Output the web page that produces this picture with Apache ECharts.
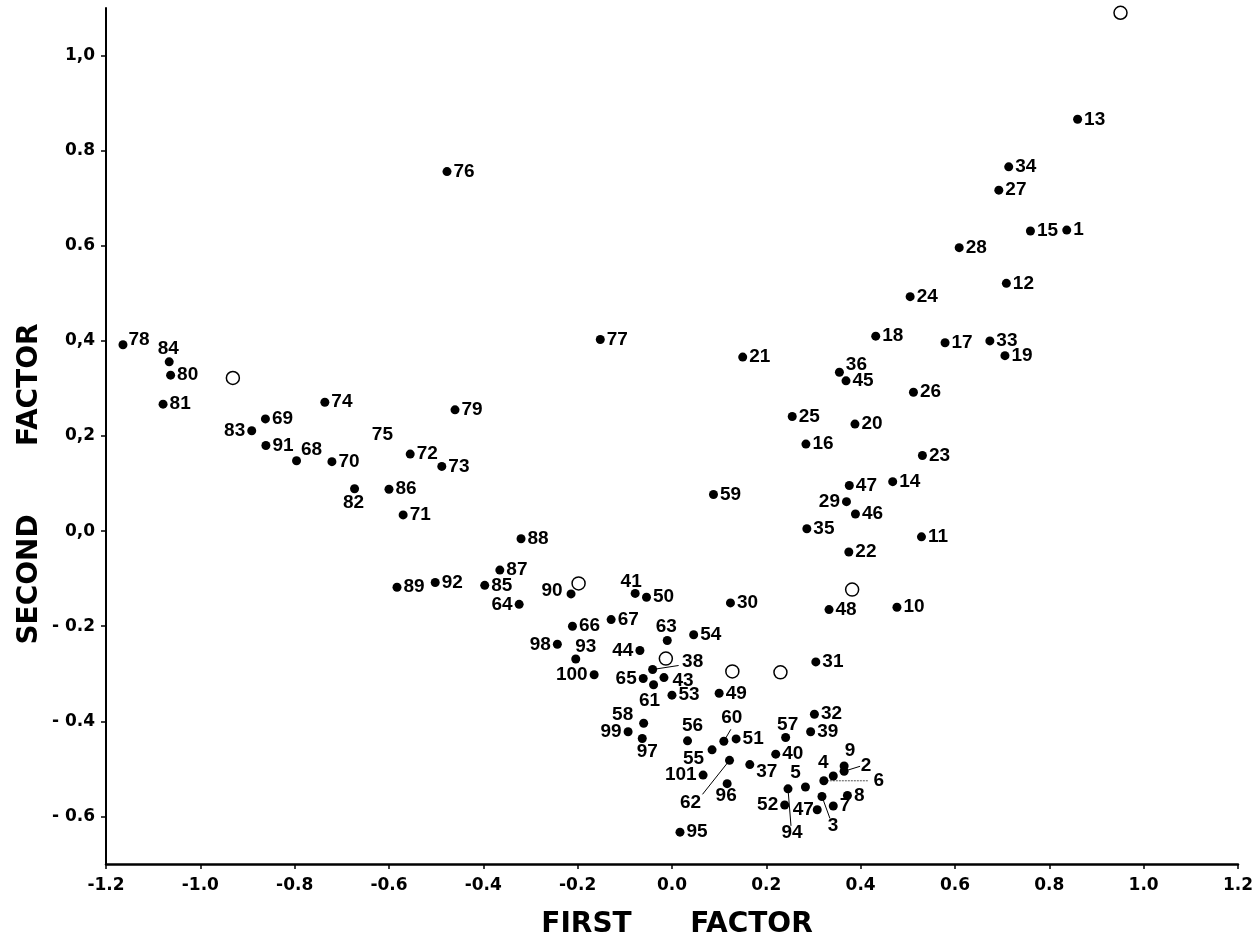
<!DOCTYPE html>
<html>
<head>
<meta charset="utf-8">
<script src="https://cdn.jsdelivr.net/npm/echarts@6/dist/echarts.min.js"></script>
<style>html,body{margin:0;padding:0;background:#fff;}#c{width:1256px;height:940px;}</style>
</head>
<body>
<div id="c"></div>
<script>
// ---- data ----
const pointIds = ['1','2','3','4','5','6','7','8','9','10','11','12','13','14','15','16','17','18','19','20',
  '21','22','23','24','25','26','27','28','29','30','31','32','33','34','35','36','37','38','39','40',
  '41','43','44','45','46','47','47','48','49','50','51','52','53','54','55','56','57','58','59','60',
  '61','62','63','64','65','66','67','68','69','70','71','72','73','74','75','76','77','78','79','80',
  '81','82','83','84','85','86','87','88','89','90','91','92','93','94','95','96','97','98','99','100','101'];
const firstFactor = [0.837,0.365,0.318,0.342,0.283,0.322,0.342,0.372,0.365,0.477,0.529,0.709,0.860,0.468,0.760,0.284,0.579,0.432,0.706,0.388,
  0.150,0.375,0.531,0.505,0.255,0.512,0.693,0.609,0.370,0.124,0.305,0.302,0.674,0.714,0.286,0.355,0.165,-0.041,0.294,0.220,
  -0.078,-0.017,-0.068,0.369,0.389,0.376,0.308,0.333,0.100,-0.054,0.136,0.239,0.000,0.046,0.085,0.033,0.241,-0.060,0.088,0.110,
  -0.039,0.122,-0.010,-0.324,-0.061,-0.211,-0.129,-0.796,-0.862,-0.721,-0.570,-0.555,-0.488,-0.736,-0.614,-0.477,-0.152,-1.164,-0.460,-1.063,
  -1.079,-0.673,-0.891,-1.066,-0.397,-0.600,-0.365,-0.320,-0.583,-0.214,-0.861,-0.502,-0.204,0.246,0.017,0.117,-0.063,-0.243,-0.093,-0.165,0.066];
const secondFactor = [0.633,-0.505,-0.558,-0.515,-0.538,-0.525,-0.578,-0.556,-0.494,-0.160,-0.012,0.521,0.866,0.104,0.631,0.183,0.396,0.410,0.369,0.225,
  0.366,-0.044,0.159,0.493,0.241,0.292,0.717,0.596,0.062,-0.151,-0.275,-0.385,0.400,0.766,0.005,0.334,-0.491,-0.291,-0.422,-0.469,
  -0.131,-0.308,-0.251,0.316,0.036,0.096,-0.586,-0.165,-0.341,-0.139,-0.437,-0.576,-0.345,-0.218,-0.460,-0.441,-0.434,-0.404,0.077,-0.442,
  -0.323,-0.482,-0.230,-0.154,-0.310,-0.200,-0.186,0.148,0.236,0.146,0.034,0.162,0.136,0.271,0.202,0.756,0.403,0.392,0.255,0.328,
  0.267,0.089,0.211,0.356,-0.114,0.088,-0.082,-0.016,-0.118,-0.132,0.180,-0.108,-0.269,-0.542,-0.633,-0.531,-0.436,-0.238,-0.422,-0.302,-0.513];
const openFirst  = [0.951,-0.931,-0.198,-0.013,0.128,0.230,0.382];
const openSecond = [1.090, 0.322,-0.110,-0.268,-0.295,-0.297,-0.123];
const xTickValues = [-1.2,-1.0,-0.8,-0.6,-0.4,-0.2,0,0.2,0.4,0.6,0.8,1.0,1.2];
const xTickLabels = ['-1.2','-1.0','-0.8','-0.6','-0.4','-0.2','0.0','0.2','0.4','0.6','0.8','1.0','1.2'];
const yTickValues = [-0.6,-0.4,-0.2,0,0.2,0.4,0.6,0.8,1.0];
const yTickLabels = ['- 0.6','- 0.4','- 0.2','0,0','0,2','0,4','0.6','0.8','1,0'];
const xTitle = 'FIRST      FACTOR';
const yTitle = 'SECOND       FACTOR';

// ---- label layout (style, px offsets of label centre from the dot) ----
const DOT = 9;
const labelPlace = {
  '84':[-1,-13], '83':'left', '68':[15,-11], '82':[-1,14], '78':[16,-5], '29':'left', '36':[17,-8],
  '63':[-1,-14], '98':'left', '93':[10,-12.5], '44':'left', '38':[40,-8], '100':'left', '65':'left',
  '43':[19,3], '61':[-4,16], '58':[-21,-8.5], '99':'left', '97':[5,13], '56':[5,-15], '60':[8,-24],
  '55':[-18.5,8.7], '62':[-39,42], '101':'left', '96':[-1,12.5], '37':[17,7.6], '57':[2,-12.3],
  '5':[-10,-14], '4':[-10,-13], '9':[6,-15], '2':[22,-6], '6':[55,0], '47#2':[-14,0], '52':'left',
  '94':[4,44], '3':[11,29], '41':[-4,-12], '90':[-19,-3], '64':'left', '75':[0,0]
};
const hiddenDot = {'75': true};
const leaderEnds = {'38':[26,-4], '60':[7,-12], '62':[-27,34], '94':[3,37], '3':[8,22], '6':[44,0], '2':[16,-5]};
const dottedLeader = {'6': true};

const labelFont = {fontFamily:'Liberation Sans, Arial, sans-serif', fontWeight:'bold', fontSize:19, color:'#000'};

const seen = {};
const pointData = pointIds.map((id, i) => {
  seen[id] = (seen[id] || 0) + 1;
  const key = seen[id] > 1 ? id + '#' + seen[id] : id;
  const place = labelPlace[key] || 'right';
  const size = hiddenDot[key] ? 0 : DOT;
  let label;
  if (Array.isArray(place)) {
    label = {position:[size / 2 + place[0], size / 2 + place[1]], align:'center', verticalAlign:'middle'};
  } else {
    label = {position:place, distance:2};
  }
  const item = {name:id, value:[firstFactor[i], secondFactor[i]], label:label};
  if (hiddenDot[key]) item.symbolSize = 0;
  return item;
});

const leaderData = [];
const leaderOffsets = [];
pointIds.forEach((id, i) => {
  if (leaderEnds[id] && !leaderOffsets.find(o => o.id === id)) {
    leaderData.push([firstFactor[i], secondFactor[i]]);
    leaderOffsets.push({id:id, off:leaderEnds[id], dotted:!!dottedLeader[id]});
  }
});

function fmt(values, labels) {
  return function (v) {
    for (let k = 0; k < values.length; k++) if (Math.abs(values[k] - v) < 1e-6) return labels[k];
    return '';
  };
}

const chart = echarts.init(document.getElementById('c'), null, {renderer:'canvas'});
chart.setOption({
  backgroundColor:'#fff',
  animation:false,
  grid:{left:106, right:18, top:8, bottom:76, containLabel:false},
  xAxis:{
    type:'value', min:-1.2, max:1.2, interval:0.2,
    splitLine:{show:false},
    axisLine:{onZero:false, lineStyle:{color:'#000', width:2.5}},
    axisTick:{show:true, length:5, customValues:xTickValues, lineStyle:{color:'#000', width:1.5}},
    axisLabel:{customValues:xTickValues, formatter:fmt(xTickValues, xTickLabels), margin:13,
      fontFamily:'DejaVu Sans', fontWeight:'bold', fontSize:17, color:'#000'}
  },
  yAxis:{
    type:'value', min:-0.7, max:1.1,
    splitLine:{show:false},
    axisLine:{onZero:false, lineStyle:{color:'#000', width:2}},
    axisTick:{show:true, length:5, customValues:yTickValues, lineStyle:{color:'#000', width:1.5}},
    axisLabel:{customValues:yTickValues, formatter:fmt(yTickValues, yTickLabels), margin:11,
      fontFamily:'DejaVu Sans', fontWeight:'bold', fontSize:17, color:'#000'}
  },
  graphic:[
    {type:'text', x:677, y:925, style:{text:xTitle, font:'bold 28px "DejaVu Sans"', fill:'#000', align:'center', verticalAlign:'middle'}},
    {type:'text', x:30, y:484, rotation:Math.PI/2, style:{text:yTitle, font:'bold 28px "DejaVu Sans"', fill:'#000', align:'center', verticalAlign:'middle'}}
  ],
  series:[
    {
      type:'custom', name:'leaders', z:1, silent:true,
      data:leaderData,
      renderItem:function (params, api) {
        const p = api.coord([api.value(0), api.value(1)]);
        const o = leaderOffsets[params.dataIndex];
        return {type:'line', shape:{x1:p[0], y1:p[1], x2:p[0]+o.off[0], y2:p[1]+o.off[1]},
          style:{stroke:o.dotted ? '#555' : '#000', lineWidth:1, lineDash:o.dotted ? [2,1] : null}};
      }
    },
    {
      type:'scatter', name:'points', z:3,
      symbol:'circle', symbolSize:DOT,
      itemStyle:{color:'#000', opacity:1},
      label:Object.assign({show:true, formatter:'{b}'}, labelFont),
      labelLayout:{hideOverlap:false},
      data:pointData
    },
    {
      type:'scatter', name:'open', z:3,
      symbol:'circle', symbolSize:13,
      itemStyle:{color:'#fff', borderColor:'#000', borderWidth:1.5, opacity:1},
      data:openFirst.map((x, i) => [x, openSecond[i]])
    }
  ]
});
</script>
</body>
</html>
